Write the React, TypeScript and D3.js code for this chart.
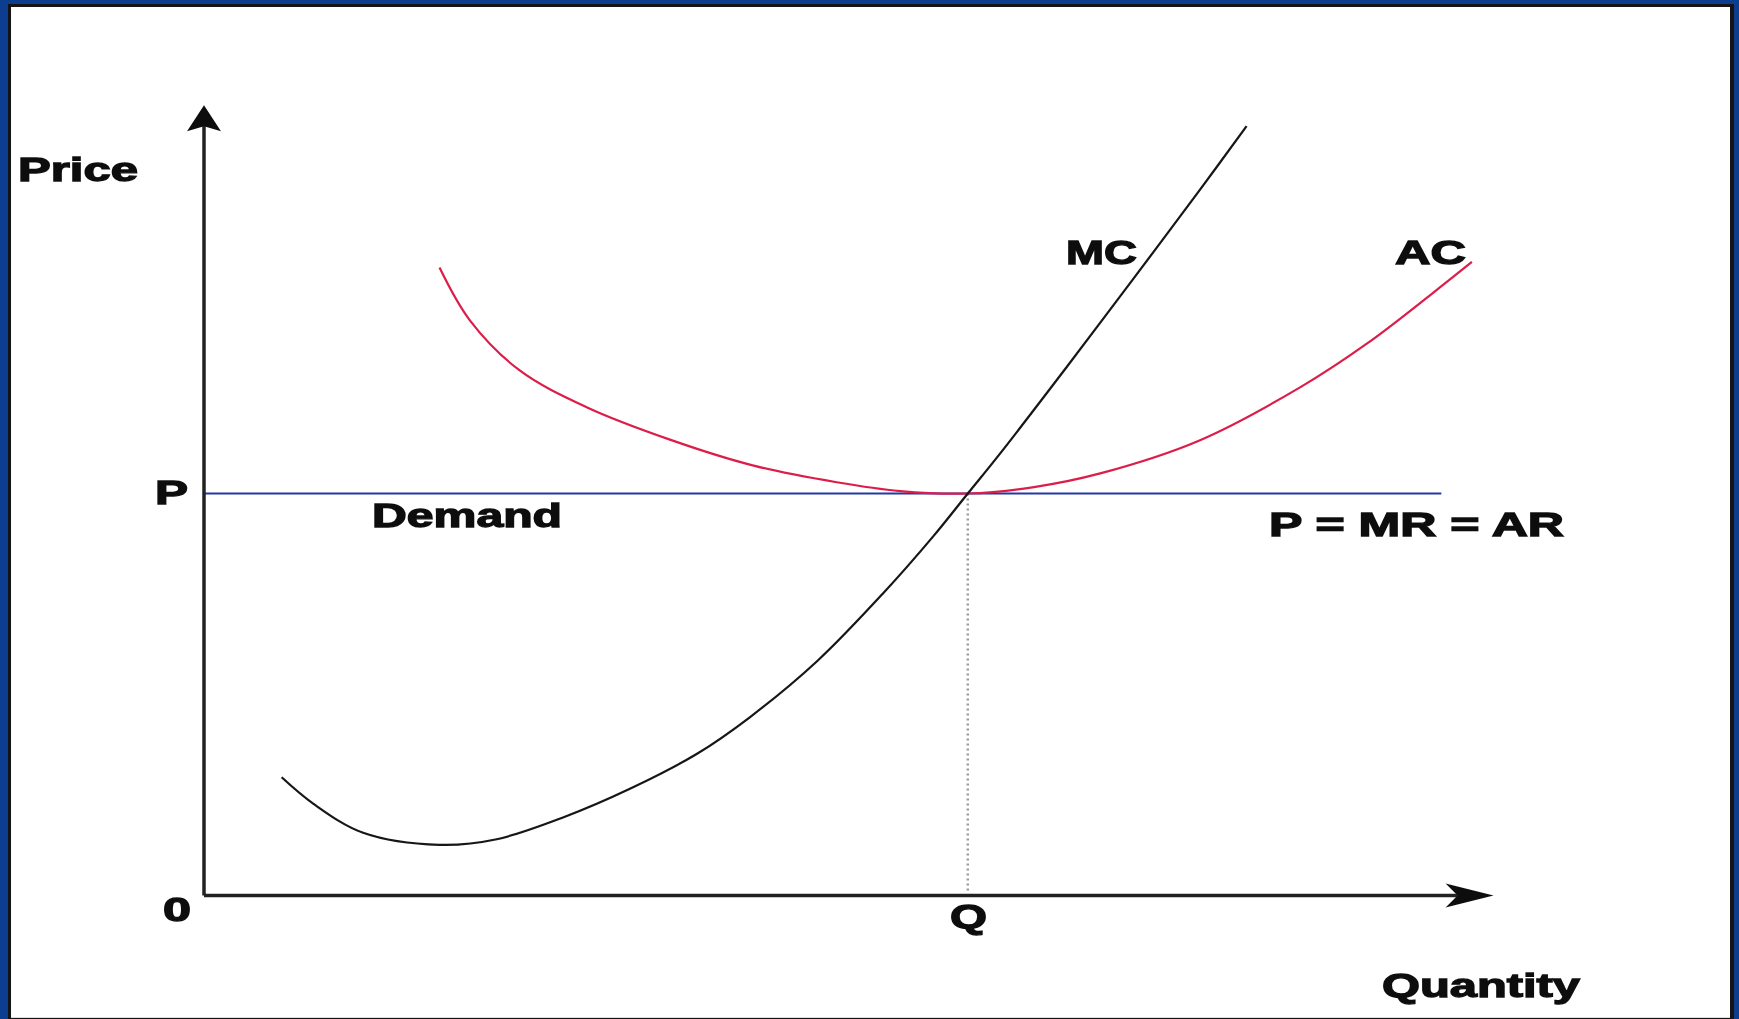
import * as d3 from 'd3';

// Perfect competition: MC, AC and the flat demand line
const mcQuantity = [0.61, 0.86, 1.25, 1.85, 2.3, 2.82, 3.35, 3.87, 4.29, 4.82, 5.33, 5.73, 6.0, 6.25, 6.78, 7.3, 7.82, 8.19];
const mcCost = [1.47, 1.14, 0.78, 0.63, 0.7, 0.97, 1.33, 1.76, 2.22, 2.92, 3.75, 4.47, 5.0, 5.49, 6.58, 7.67, 8.77, 9.57];

const acQuantity = [1.85, 2.09, 2.48, 3.01, 3.66, 4.31, 4.97, 5.47, 6.0, 6.52, 7.04, 7.82, 8.61, 9.14, 9.65, 9.96];
const acCost = [7.81, 7.15, 6.53, 6.07, 5.67, 5.35, 5.14, 5.03, 5.0, 5.08, 5.25, 5.66, 6.32, 6.87, 7.49, 7.88];

const priceLevel = 5;
const equilibriumQ = 6;
const demandEnd = 9.72;
const xAxisEnd = 10.13;
const yAxisEnd = 9.83;

const width = 1739;
const height = 1019;

const font = "'Liberation Sans', Arial, sans-serif";

export default function App() {
  const x = d3.scaleLinear().domain([0, 10]).range([204, 1477]);
  const y = d3.scaleLinear().domain([0, 10]).range([895.5, 91.5]);

  const line = d3
    .line<[number, number]>()
    .x((d) => x(d[0]))
    .y((d) => y(d[1]))
    .curve(d3.curveCatmullRom.alpha(0.5));

  const mcPath = line(mcQuantity.map((q, i) => [q, mcCost[i]]));
  const acPath = line(acQuantity.map((q, i) => [q, acCost[i]]));

  const x0 = x(0);
  const y0 = y(0);
  const xTip = x(xAxisEnd);
  const yTip = y(yAxisEnd);

  const label = (txt: string, lx: number, ly: number, len: number) => (
    <text
      x={lx}
      y={ly}
      textLength={len}
      lengthAdjust="spacingAndGlyphs"
      fontFamily={font}
      fontWeight="bold"
      fontSize={33}
      fill="#111"
      stroke="#111"
      strokeWidth={1.3}
    >
      {txt}
    </text>
  );

  return (
    <svg
      width={width}
      height={height}
      style={{ position: 'absolute', left: 0, top: 0 }}
    >
      <defs>
        <filter id="soft">
          <feGaussianBlur stdDeviation="0.5" />
        </filter>
      </defs>
      <rect width={width} height={height} fill="#0c3d8e" />
      <rect x={8} y={4} width={1726} height={height - 4} fill="#141414" />
      <rect x={11} y={7} width={1719} height={1010} fill="#fff" />
      <line x1={11} x2={1730} y1={1017.5} y2={1017.5} stroke="#ddd" strokeWidth={1} />

      <g filter="url(#soft)">
        {/* equilibrium quantity guide */}
        <line
          x1={x(equilibriumQ)}
          x2={x(equilibriumQ)}
          y1={y(priceLevel)}
          y2={y0 - 2}
          stroke="#999"
          strokeWidth={2.5}
          strokeDasharray="2 3"
        />

        {/* demand */}
        <line
          x1={x0}
          x2={x(demandEnd)}
          y1={y(priceLevel)}
          y2={y(priceLevel)}
          stroke="#2639a6"
          strokeWidth={2.2}
        />

        <path d={acPath ?? ''} fill="none" stroke="#dc1e4a" strokeWidth={2.2} />
        <path d={mcPath ?? ''} fill="none" stroke="#151515" strokeWidth={2.2} />

        {/* axes */}
        <line x1={x0} x2={x0} y1={y0} y2={yTip + 15} stroke="#222" strokeWidth={3.5} />
        <line x1={x0} x2={xTip - 20} y1={y0} y2={y0} stroke="#222" strokeWidth={3.5} />
        <path
          d={`M${x0},${yTip} L${x0 + 17},${yTip + 26} L${x0},${yTip + 21} L${x0 - 17},${yTip + 26} Z`}
          fill="#111"
        />
        <path
          d={`M${xTip},${y0} L${xTip - 48},${y0 - 12} L${xTip - 36},${y0} L${xTip - 48},${y0 + 12} Z`}
          fill="#111"
        />

        {label('Price', 18, 181, 120)}
        {label('P', 155, 504, 33)}
        {label('0', 163, 921, 28)}
        {label('Q', 950, 928, 37)}
        {label('Quantity', 1382, 997, 198)}
        {label('Demand', 372, 527, 190)}
        {label('P = MR = AR', 1269, 536, 295)}
        {label('MC', 1066, 264, 71)}
        {label('AC', 1395, 264, 71)}
      </g>
    </svg>
  );
}
